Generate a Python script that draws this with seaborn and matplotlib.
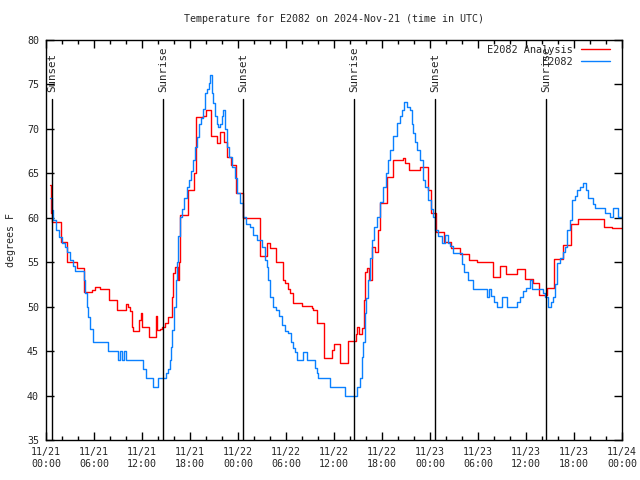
import matplotlib
matplotlib.use("Agg")
import matplotlib.pyplot as plt
import seaborn as sns
import pandas as pd

# ---- data (hours since 2024-11-21 00:00 UTC) ----
obs_hours = [0.5, 0.75, 0.88, 1.25, 1.63, 2.0, 2.38, 2.63, 3.0, 3.38, 3.63, 4.75, 4.88, 5.13, 5.25, 5.5, 5.88,
             7.75, 9.0, 9.25, 9.5, 9.75, 10.0, 12.13, 12.5, 13.38, 14.0, 15.0, 15.25, 15.5, 15.63, 15.75, 16.0,
             16.25, 16.38, 16.5, 16.75, 17.0, 17.25, 17.63, 17.88, 18.13, 18.38, 18.63, 18.88, 19.13, 19.38,
             19.63, 19.88, 20.13, 20.38, 20.5, 20.75, 20.88, 21.13, 21.38, 21.5, 21.75, 22.0, 22.13, 22.38,
             22.63, 22.88, 23.25, 23.63, 23.88, 24.25, 24.63, 25.0, 25.5, 25.88, 26.38, 27.0, 27.38, 27.63,
             27.75, 28.0, 28.38, 28.75, 29.13, 29.5, 29.88, 30.25, 30.63, 30.88, 31.13, 31.38, 32.13, 32.63,
             33.63, 33.88, 34.0, 35.5, 37.38, 38.88, 39.25, 39.5, 39.63, 39.88, 40.0, 40.25, 40.5, 40.75,
             41.0, 41.38, 41.75, 42.13, 42.5, 42.75, 43.0, 43.38, 43.88, 44.25, 44.5, 44.75, 45.13, 45.5,
             45.75, 45.88, 46.13, 46.38, 46.75, 47.13, 47.38, 47.75, 48.13, 48.38, 48.63, 49.0, 49.5, 49.88,
             50.25, 50.5, 50.88, 52.0, 52.25, 52.75, 53.38, 55.13, 55.38, 55.63, 56.0, 56.38, 57.0, 57.63,
             58.88, 59.25, 59.63, 60.0, 60.5, 60.75, 62.13, 62.38, 62.75, 63.13, 63.38, 63.63, 63.88, 64.25,
             64.63, 64.88, 65.13, 65.5, 65.75, 66.13, 66.38, 66.75, 67.13, 67.5, 67.75, 68.38, 68.63, 69.88,
             70.5, 70.88, 71.25, 71.5, 72.0]
obs_temps = [62.2, 60.9, 59.7, 58.6, 57.8, 57.2, 56.7, 56.2, 55.3, 54.6, 54.0, 53.0, 51.5, 50.0, 48.8, 47.5, 46.0,
             45.0, 44.0, 45.0, 44.0, 45.0, 44.0, 43.0, 42.0, 41.0, 42.0, 42.5, 43.0, 44.0, 45.5, 47.4, 50.0,
             53.0, 55.0, 58.0, 60.1, 61.0, 62.2, 63.5, 64.3, 65.3, 66.5, 68.0, 69.1, 70.5, 71.2,
             72.2, 74.0, 74.5, 75.2, 76.1, 74.0, 72.9, 71.5, 70.5, 70.2, 70.5, 71.5, 72.1, 70.0,
             68.0, 66.8, 65.7, 64.5, 62.8, 61.7, 60.1, 59.3, 59.0, 58.1, 57.5, 56.7, 55.3, 54.5,
             53.0, 51.1, 50.0, 49.6, 49.0, 47.9, 47.3, 47.0, 46.0, 45.3, 44.9, 44.0, 44.9, 44.0,
             43.1, 42.5, 42.0, 41.0, 40.0, 41.0, 42.0, 44.3, 46.0, 49.3, 51.0, 53.0, 55.5, 57.5,
             59.0, 60.1, 61.8, 63.5, 65.0, 66.5, 67.6, 69.2, 70.7, 71.5, 72.1, 73.0, 72.5, 72.1,
             70.5, 69.5, 68.5, 67.6, 66.5, 64.3, 63.5, 62.0, 61.0, 60.1, 58.6, 58.0, 57.2, 58.1,
             57.2, 56.8, 56.0, 54.8, 53.9, 53.0, 52.0, 51.1, 52.0, 51.2, 50.5, 50.0, 51.1, 50.0,
             50.5, 51.1, 51.8, 52.1, 53.0, 52.0, 51.5, 51.1, 50.0, 50.5, 51.1, 52.5, 54.9, 55.5,
             56.2, 56.7, 58.6, 59.7, 62.0, 62.5, 63.1, 63.5, 63.9, 63.1, 62.2, 61.6, 61.1, 60.5,
             60.1, 61.1, 61.1, 60.1, 60.0]

ana_hours = [0.5, 0.63, 0.75, 1.88, 2.63, 3.88, 4.75, 5.75, 6.13, 6.75, 7.88, 8.88, 10.0, 10.25, 10.5, 10.75,
             10.88, 11.63, 11.88, 12.0, 12.88, 13.75, 13.88, 14.25, 14.5, 14.88, 15.25, 15.75, 15.88, 16.13,
             16.5, 16.63, 16.75, 17.75, 18.5, 18.75, 19.63, 20.0, 20.63, 21.38, 21.75, 22.25, 22.63, 23.13,
             23.75, 24.63, 26.75, 27.63, 28.0, 28.75, 29.63, 29.88, 30.25, 30.5, 30.88, 32.0, 33.25, 33.38,
             33.88, 34.75, 35.75, 36.0, 36.75, 37.75, 38.75, 38.88, 39.13, 39.5, 39.75, 39.88, 40.13, 40.38,
             40.75, 41.13, 41.5, 41.75, 42.63, 43.38, 44.63, 44.88, 45.38, 46.75, 47.75, 48.13, 48.75, 49.75,
             50.63, 51.75, 52.88, 53.88, 55.88, 56.75, 57.5, 58.88, 59.88, 60.88, 61.63, 62.63, 63.5, 64.63,
             65.63, 66.5, 69.75, 70.75, 72.0]
ana_temps = [63.7, 60.5, 59.5, 57.3, 55.0, 54.3, 51.7, 51.9, 52.2, 52.0, 50.7, 49.6, 50.3, 50.0, 49.5, 47.7,
             47.3, 48.5, 49.3, 47.7, 46.6, 49.0, 47.4, 47.5, 47.7, 48.2, 48.8, 51.1, 53.8, 54.5,
             53.0, 55.0, 60.3, 63.1, 65.0, 71.3, 71.5, 72.1, 69.2, 68.4, 69.7, 68.5, 66.8, 65.9,
             62.8, 60.0, 55.7, 57.2, 56.6, 55.0, 53.0, 52.7, 52.0, 51.5, 50.4, 50.1, 49.9, 49.6,
             48.2, 44.2, 45.1, 45.8, 43.7, 46.1, 46.9, 47.7, 46.9, 47.6, 50.7, 53.9, 54.3, 53.0,
             56.7, 56.2, 58.6, 61.7, 64.6, 66.5, 66.7, 66.2, 65.4, 65.7, 63.1, 60.5, 58.4, 57.3,
             56.6, 55.9, 55.3, 55.0, 53.3, 54.6, 53.7, 54.2, 53.1, 52.7, 51.3, 52.1, 55.4, 56.9,
             59.3, 59.9, 59.0, 58.8, 58.8]

event_hours = [0.75, 14.63, 24.63, 38.5, 48.63, 62.5]
event_labels = ["Sunset", "Sunrise", "Sunset", "Sunrise", "Sunset", "Sunrise"]

tick_hours = [0, 6, 12, 18, 24, 30, 36, 42, 48, 54, 60, 66, 72]
tick_labels = ["11/21\n00:00", "11/21\n06:00", "11/21\n12:00", "11/21\n18:00",
               "11/22\n00:00", "11/22\n06:00", "11/22\n12:00", "11/22\n18:00",
               "11/23\n00:00", "11/23\n06:00", "11/23\n12:00", "11/23\n18:00",
               "11/24\n00:00"]

title = "Temperature for E2082 on 2024-Nov-21 (time in UTC)"

# ---- style ----
sns.set_style("white")
plt.rcParams["font.family"] = ["DejaVu Sans Mono", "DejaVu Sans"]
fs = 7.2

df = pd.concat([
    pd.DataFrame({"hour": ana_hours, "temp": ana_temps, "series": "E2082 Analysis"}),
    pd.DataFrame({"hour": obs_hours, "temp": obs_temps, "series": "E2082"}),
], ignore_index=True)

fig = plt.figure(figsize=(6.4, 4.8), dpi=100)
ax = fig.add_axes([46 / 640, 40 / 480, 576 / 640, 400 / 480])

sns.lineplot(data=df, x="hour", y="temp", hue="series", sort=False, estimator=None,
             palette={"E2082 Analysis": "#ff0000", "E2082": "#0a80ff"},
             drawstyle="steps-post", linewidth=1.0, ax=ax)

ymin, ymax = 35, 80
for h, lab in zip(event_hours, event_labels):
    ax.axvline(h, ymin=0, ymax=(73.4 - ymin) / (ymax - ymin), color="black", lw=1.0)
    ax.text(h, 74.15, lab, rotation=90, ha="center", va="bottom", fontsize=7.8)

ax.set_xlim(0, 72)
ax.set_ylim(ymin, ymax)
ax.set_xticks(tick_hours)
ax.set_xticklabels(tick_labels, fontsize=fs, linespacing=1.2)
ax.set_xticks(list(range(0, 73, 2)), minor=True)
ax.set_yticks(list(range(35, 81, 5)))
ax.set_yticklabels([str(v) for v in range(35, 81, 5)], fontsize=fs)
ax.tick_params(axis="both", which="major", direction="in", length=6, width=1,
               top=True, right=True, bottom=True, left=True, color="black", pad=5)
ax.tick_params(axis="x", which="minor", direction="in", length=3, width=1,
               top=True, bottom=True, color="black")
for s in ax.spines.values():
    s.set_color("black")
    s.set_linewidth(1.0)

ax.set_xlabel("")
ax.set_ylabel("degrees F", fontsize=fs, labelpad=8)
fig.text(334 / 640, 1 - 19 / 480, title, ha="center", va="center", fontsize=fs)

handles, labels = ax.get_legend_handles_labels()
ax.legend(handles, labels, loc="upper right", frameon=False, fontsize=7.4, markerfirst=False,
          handlelength=2.8, handletextpad=0.8, labelspacing=0.2,
          bbox_to_anchor=(0.9965, 1.0135), borderaxespad=0.6)

fig.savefig("out.png", dpi=100)
